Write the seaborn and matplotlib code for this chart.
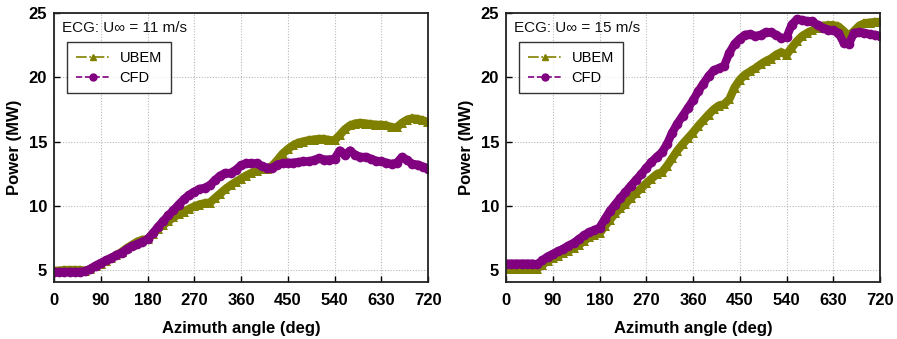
import numpy as np
import pandas as pd
import matplotlib
matplotlib.use("Agg")
import matplotlib.pyplot as plt
from matplotlib.lines import Line2D
import seaborn as sns

angles = list(range(0, 721, 10))

ubem_11 = [4.95, 4.95, 5.0, 5.0, 5.0, 5.0, 4.95, 5.05, 5.3, 5.5, 5.7, 5.9, 6.15, 6.4, 6.7,
           6.95, 7.2, 7.35, 7.4, 7.8, 8.2, 8.5, 8.8, 9.1, 9.35, 9.55, 9.75, 9.95, 10.1, 10.2,
           10.25, 10.6, 10.95, 11.3, 11.6, 11.85, 12.1, 12.35, 12.55, 12.7, 12.85, 12.9, 13.1,
           13.55, 14.05, 14.4, 14.7, 14.9, 15.0, 15.1, 15.15, 15.2, 15.2, 15.1, 15.1, 15.5,
           15.95, 16.25, 16.4, 16.45, 16.4, 16.35, 16.3, 16.3, 16.25, 16.1, 16.1, 16.45, 16.7,
           16.8, 16.75, 16.65, 16.5]
cfd_11 = [4.85, 4.85, 4.85, 4.85, 4.85, 4.85, 4.9, 5.1, 5.35, 5.55, 5.75, 5.95, 6.15, 6.35,
          6.6, 6.85, 7.0, 7.2, 7.4, 7.85, 8.35, 8.8, 9.25, 9.65, 10.1, 10.5, 10.85, 11.1, 11.3,
          11.4, 11.6, 12.0, 12.35, 12.55, 12.55, 12.8, 13.15, 13.3, 13.3, 13.3, 13.1, 12.95,
          12.95, 13.2, 13.3, 13.35, 13.35, 13.4, 13.45, 13.45, 13.55, 13.7, 13.6, 13.6, 13.65,
          14.3, 13.95, 14.3, 13.95, 13.8, 13.8, 13.65, 13.5, 13.45, 13.35, 13.25, 13.35, 13.8,
          13.55, 13.25, 13.2, 13.05, 12.9]
ubem_15 = [5.05, 5.05, 5.05, 5.1, 5.1, 5.1, 5.1, 5.4, 5.7, 5.9, 6.1, 6.3, 6.5, 6.7, 6.95,
           7.25, 7.55, 7.75, 7.85, 8.4, 8.9, 9.4, 9.8, 10.15, 10.6, 11.0, 11.35, 11.75, 12.1,
           12.45, 12.6, 13.1, 13.7, 14.3, 14.8, 15.25, 15.7, 16.2, 16.65, 17.1, 17.5, 17.8,
           17.9, 18.3, 19.2, 19.8, 20.2, 20.45, 20.7, 21.0, 21.25, 21.45, 21.75, 21.95, 21.75,
           22.3, 22.8, 23.2, 23.45, 23.65, 23.85, 24.0, 24.05, 24.05, 23.95, 23.6, 23.2, 23.6,
           24.0, 24.2, 24.25, 24.3, 24.3]
cfd_15 = [5.5, 5.5, 5.5, 5.5, 5.5, 5.5, 5.45, 5.75, 6.05, 6.25, 6.45, 6.65, 6.9, 7.1, 7.4,
          7.7, 7.95, 8.1, 8.3, 8.95, 9.6, 10.1, 10.6, 11.05, 11.55, 12.0, 12.45, 12.95, 13.4,
          13.8, 14.15, 14.8, 15.7, 16.4, 17.0, 17.6, 18.2, 18.9, 19.5, 20.1, 20.55, 20.7, 20.9,
          21.9, 22.6, 23.0, 23.3, 23.35, 23.2, 23.3, 23.5, 23.5, 23.3, 23.05, 23.1, 24.1, 24.5,
          24.45, 24.35, 24.35, 24.05, 23.85, 23.7, 23.65, 23.45, 22.7, 22.6, 23.45, 23.5,
          23.45, 23.35, 23.3, 23.2]

titles = ["ECG: U\u221e = 11 m/s", "ECG: U\u221e = 15 m/s"]
xticks = [0, 90, 180, 270, 360, 450, 540, 630, 720]
yticks = [5, 10, 15, 20, 25]

OLIVE = "#808000"
PURPLE = "#800080"

sns.set_theme(style="white")
plt.rcParams["font.family"] = ["Liberation Sans", "DejaVu Sans"]
plt.rcParams["text.color"] = "black"
plt.rcParams["axes.labelcolor"] = "black"
plt.rcParams["xtick.color"] = "black"
plt.rcParams["ytick.color"] = "black"

fig = plt.figure(figsize=(8.97, 3.39), dpi=100)
ax1 = fig.add_axes([54 / 897, 1 - 282 / 339, 374 / 897, 269 / 339])
ax2 = fig.add_axes([506 / 897, 1 - 282 / 339, 374 / 897, 269 / 339])

for ax, ub, cf, title in [(ax1, ubem_11, cfd_11, titles[0]), (ax2, ubem_15, cfd_15, titles[1])]:
    df = pd.DataFrame({"angle": angles, "UBEM": ub, "CFD": cf})
    ax.grid(True, linestyle=(0, (1, 1.5)), color="#b8b8b8", lw=0.8)
    ax.set_axisbelow(True)
    sns.lineplot(data=df, x="angle", y="UBEM", ax=ax, color=OLIVE, lw=6,
                 marker="^", markersize=7, markeredgewidth=0, legend=False)
    sns.lineplot(data=df, x="angle", y="CFD", ax=ax, color=PURPLE, lw=6,
                 marker="o", markersize=7, markeredgewidth=0, legend=False)
    ax.set_xlim(0, 720)
    ax.set_ylim(4.07, 25)
    ax.set_xticks(xticks)
    ax.set_yticks(yticks)
    ax.set_xticklabels([str(t) for t in xticks], fontweight="bold", fontsize=12)
    ax.set_yticklabels([str(t) for t in yticks], fontweight="bold", fontsize=12)
    ax.tick_params(direction="in", length=4, width=1, colors="black",
                   bottom=True, left=True)
    ax.tick_params(axis="x", pad=8)
    ax.tick_params(axis="y", pad=5)
    for s in ax.spines.values():
        s.set_color("#222222")
        s.set_linewidth(1.3)
    ax.set_xlabel("Azimuth angle (deg)", fontweight="bold", fontsize=12, labelpad=9)
    ax.set_ylabel("Power (MW)", fontweight="bold", fontsize=12, labelpad=5)
    ax.text(0.022, 0.945, title, transform=ax.transAxes, fontsize=11,
            ha="left", va="center", color="#111111")
    handles = [Line2D([], [], color=OLIVE, lw=1.2, ls="-.", marker="^", markersize=5),
               Line2D([], [], color=PURPLE, lw=1.2, ls="--", marker="o", markersize=5)]
    leg = ax.legend(handles, ["UBEM", "CFD"], loc="upper left",
                    bbox_to_anchor=(0.035, 0.892), borderaxespad=0, fontsize=10.5,
                    frameon=True, fancybox=False, edgecolor="black", handlelength=2.4,
                    handletextpad=0.6, borderpad=0.6, labelspacing=0.4)
    leg.get_frame().set_linewidth(1.0)

fig.savefig("out.png", dpi=100)
